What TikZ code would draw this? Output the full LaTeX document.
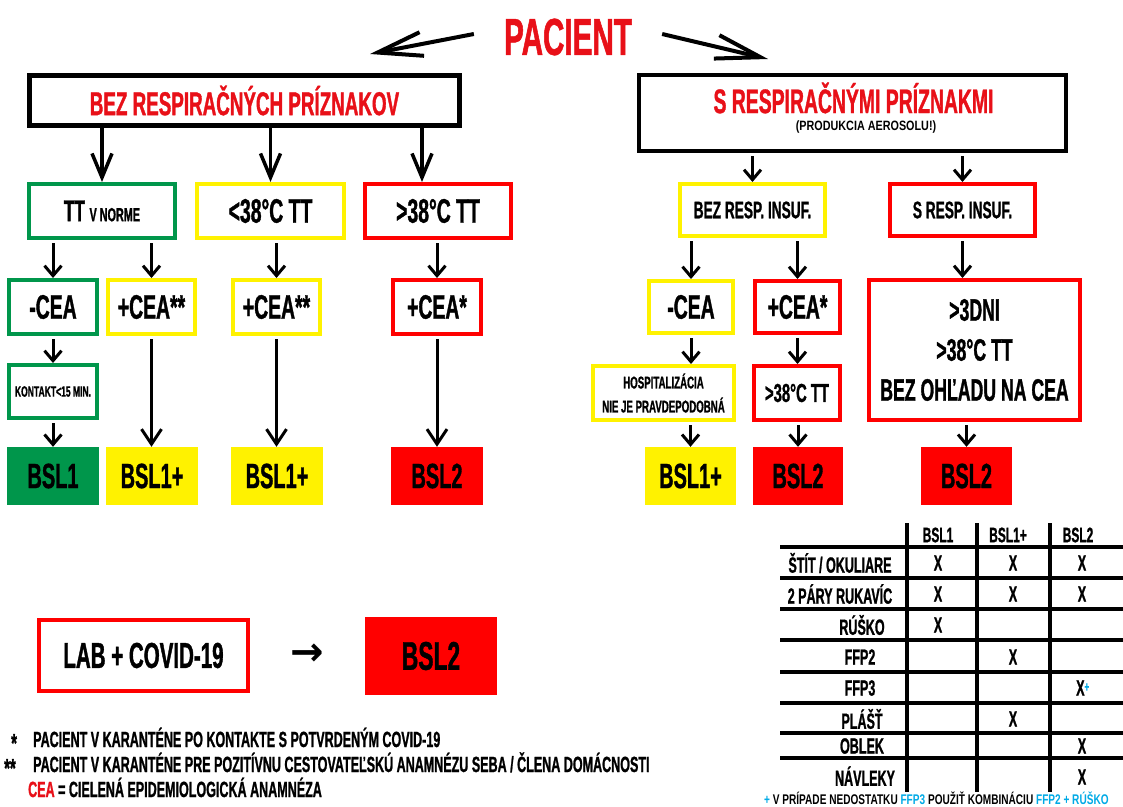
\documentclass[tikz,border=0pt]{standalone}
\usepackage{fontspec}
\newfontfamily\bb{Liberation Sans}[FakeStretch=0.57,FakeBold=1]
\newfontfamily\bbw{Liberation Sans}[FakeStretch=0.8]
\newfontfamily\bbm{Liberation Sans}[FakeStretch=0.72]
\newfontfamily\symf{DejaVu Sans}
\usetikzlibrary{arrows.meta,calc}
\definecolor{cred}{RGB}{255,0,0}
\definecolor{tred}{RGB}{232,16,24}
\definecolor{cgreen}{RGB}{0,150,75}
\definecolor{cyel}{RGB}{255,242,0}
\definecolor{cblue}{RGB}{0,170,230}
\newcommand\myfs[1]{\fontsize{#1}{#1}\selectfont}
\begin{document}
\begin{tikzpicture}[x=1pt,y=-1pt,
  every node/.append style={inner sep=0pt},
  f/.style={font={\bb\bfseries\myfs{#1}}},
  kbox/.style={draw=black, line width=4.5pt},
  gbox/.style={draw=cgreen, line width=4pt},
  ybox/.style={draw=cyel, line width=4pt},
  rbox/.style={draw=cred, line width=4pt},
  gfill/.style={fill=cgreen},
  yfill/.style={fill=cyel},
  rfill/.style={fill=cred},
  sz/.style 2 args={minimum width=#1pt, minimum height=#2pt},
  arr/.style={line width=3pt, shorten <=3pt, -{Straight Barb[length=10pt,width=17pt]}},
  tarr/.style={line width=3.5pt, -{Straight Barb[length=24pt,width=20pt]}},
  larr/.style={line width=3pt, shorten <=3pt, -{Straight Barb[length=15pt,width=20pt]}},
  parr/.style={line width=4pt, -{Straight Barb[length=45pt,width=24pt]}},
]
\fill[white] (0,0) rectangle (1123,806);
\useasboundingbox (0,0) rectangle (1123,806);

% title
\node[f=52, text=tred] (pac) at (568,37) {PACIENT};
\coordinate (pl) at (370,54);
\coordinate (pr) at (768,59);
\draw[parr] ([xshift=-30pt,yshift=3pt]pac.west) -- (pl);
\draw[parr] ([xshift=30pt,yshift=3pt]pac.east) -- (pr);

% top boxes
\node[kbox, sz={430}{50}, f=33, text=tred] (tl) at (244.5,100.5) {BEZ RESPIRAČNÝCH PRÍZNAKOV};
\node[kbox, sz={427}{76}] (tr) at (852.5,113) {};
\node[f=34, text=tred] (trt) at (853.5,98) {S RESPIRAČNÝMI PRÍZNAKMI};
\node[font={\bbw\bfseries\myfs{13.5}}] (trs) at (866,127) {(PRODUKCIA AEROSOLU!)};

% row 2
\node[gbox, sz={146}{54}, f=30] (tt) at (102,211) {TT {\myfs{19}V NORME}};
\node[ybox, sz={147}{54}, f=34] (lt) at (270.5,211) {<38°C TT};
\node[rbox, sz={146}{54}, f=34] (gt) at (438,211) {>38°C TT};
\node[ybox, sz={145}{52}, f=24] (bri) at (752.5,210) {BEZ RESP. INSUF.};
\node[rbox, sz={145}{52}, f=24] (sri) at (962.5,210) {S RESP. INSUF.};

% row 3
\node[gbox, sz={88}{54}, f=34] (c1) at (53,307) {-CEA};
\node[ybox, sz={87}{54}, f=34] (c2) at (151.5,307) {+CEA**};
\node[ybox, sz={87}{54}, f=34] (c3) at (276.5,307) {+CEA**};
\node[rbox, sz={88}{54}, f=34] (c4) at (437,307) {+CEA*};
\node[ybox, sz={84}{52}, f=34] (c5) at (691,307) {-CEA};
\node[rbox, sz={85}{52}, f=34] (c6) at (797.5,307) {+CEA*};
\node[rbox, sz={211}{140}, f=31, align=center] (big) at (974.5,350)
  {>3DNI\\[9pt]>38°C TT\\[9pt]BEZ OHĽADU NA CEA};

% row 4
\node[gbox, sz={88}{53}, f=15] (k) at (53,391.5) {KONTAKT<15 MIN.};
\node[ybox, sz={141}{54}, f=17, align=center] (hosp) at (663.5,393) {HOSPITALIZÁCIA\\[7pt]NIE JE PRAVDEPODOBNÁ};
\node[rbox, sz={86}{54}, f=26] (t38) at (797,393) {>38°C TT};

% row 5
\node[gfill, sz={92}{58}, f=35] (b1) at (53,476) {BSL1};
\node[yfill, sz={92}{58}, f=35] (b2) at (152,476) {BSL1+};
\node[yfill, sz={92}{58}, f=35] (b3) at (277,476) {BSL1+};
\node[rfill, sz={92}{58}, f=35] (b4) at (437,476) {BSL2};
\node[yfill, sz={91}{58}, f=35] (b5) at (690.5,476) {BSL1+};
\node[rfill, sz={90}{58}, f=35] (b6) at (798,476) {BSL2};
\node[rfill, sz={91}{58}, f=35] (b7) at (966.5,476) {BSL2};

% arrows top
\coordinate (g1) at ([xshift=-16pt]gt.north);
\draw[tarr] (tt.north |- tl.south) -- (tt.north);
\draw[tarr] (lt.north |- tl.south) -- (lt.north);
\draw[tarr] (g1 |- tl.south) -- (g1);
\draw[arr] (bri.north |- tr.south) -- (bri.north);
\draw[arr] (sri.north |- tr.south) -- (sri.north);

% row2 -> row3
\draw[arr] (c1.north |- tt.south) -- (c1.north);
\draw[arr] (c2.north |- tt.south) -- (c2.north);
\draw[arr] (c3.north |- lt.south) -- (c3.north);
\draw[arr] (c4.north |- gt.south) -- (c4.north);
\draw[arr] (c5.north |- bri.south) -- (c5.north);
\draw[arr] (c6.north |- bri.south) -- (c6.north);
\draw[arr] (sri.south) -- (sri.south |- big.north);

% row3 -> row4/5
\draw[arr] (c1.south) -- (k.north);
\draw[arr] (c5.south) -- (c5.south |- hosp.north);
\draw[arr] (c6.south) -- (c6.south |- t38.north);
\draw[larr] (c2.south) -- (c2.south |- b2.north);
\draw[larr] (c3.south) -- (c3.south |- b3.north);
\draw[larr] (c4.south) -- (c4.south |- b4.north);

% row4 -> row5
\draw[arr] (k.south) -- (b1.north);
\draw[arr] (b5.north |- hosp.south) -- (b5.north);
\draw[arr] (b6.north |- t38.south) -- (b6.north);
\draw[arr] (b7.north |- big.south) -- (b7.north);

% bottom left
\node[draw=cred, line width=3.5pt, sz={209}{71}, f=36] (lab) at (143.5,655.5) {LAB + COVID-19};
\node[font={\symf\bfseries\myfs{40}}] (la) at (307,655) {→};
\node[rfill, sz={132}{78}, f=40] (lb) at (431,656) {BSL2};

% footnotes
\node[f=26, anchor=base west] (n1s) at (11,752) {*};
\node[f=22, anchor=base west] (n1) at (33,747) {PACIENT V KARANTÉNE PO KONTAKTE S POTVRDENÝM COVID-19};
\node[f=26, anchor=base west] (n2s) at (4,777) {**};
\node[f=22, anchor=base west] (n2) at (33,772) {PACIENT V KARANTÉNE PRE POZITÍVNU CESTOVATEĽSKÚ ANAMNÉZU SEBA / ČLENA DOMÁCNOSTI};
\node[f=22, anchor=base west] (n3) at (28,797) {\textcolor{tred}{CEA} = CIELENÁ EPIDEMIOLOGICKÁ ANAMNÉZA};

% table
\foreach \xx in {907,977,1050} \draw[line width=4.5pt] (\xx,523) -- (\xx,792);
\foreach \yy in {547,578,609,640,672,703,733,758} \draw[line width=4pt] (780,\yy) -- (1123,\yy);
\node[f=21] (h1) at (938,535) {BSL1};
\node[f=21] (h2) at (1008,535) {BSL1+};
\node[f=21] (h3) at (1078,535) {BSL2};
\node[f=22] (r1) at (840,563) {ŠTÍT / OKULIARE};
\node[f=22] (r2) at (840,594) {2 PÁRY RUKAVÍC};
\node[f=22] (r3) at (862,625) {RÚŠKO};
\node[f=22] (r4) at (860,657) {FFP2};
\node[f=22] (r5) at (860,688) {FFP3};
\node[f=22] (r6) at (862,719) {PLÁŠŤ};
\node[f=22] (r7) at (862,746) {OBLEK};
\node[f=22] (r8) at (865,776) {NÁVLEKY};
\foreach \xx/\yy in {938/563,1013/563,1082/563,938/594,1013/594,1082/594,938/625,1013/657,1013/719,1082/746,1082/777}
  \node[f=22] at (\xx,\yy) {X};
\node[f=22, anchor=west] (x5) at (1076,688) {X\textcolor{cblue}{\raisebox{4pt}{\myfs{14}+}}};
\node[font={\bbm\bfseries\myfs{14}}, anchor=base west] (foot) at (764,804) {\textcolor{cblue}{+} V PRÍPADE NEDOSTATKU \textcolor{cblue}{FFP3} POUŽIŤ KOMBINÁCIU \textcolor{cblue}{FFP2 + RÚŠKO}};
\end{tikzpicture}
\end{document}
